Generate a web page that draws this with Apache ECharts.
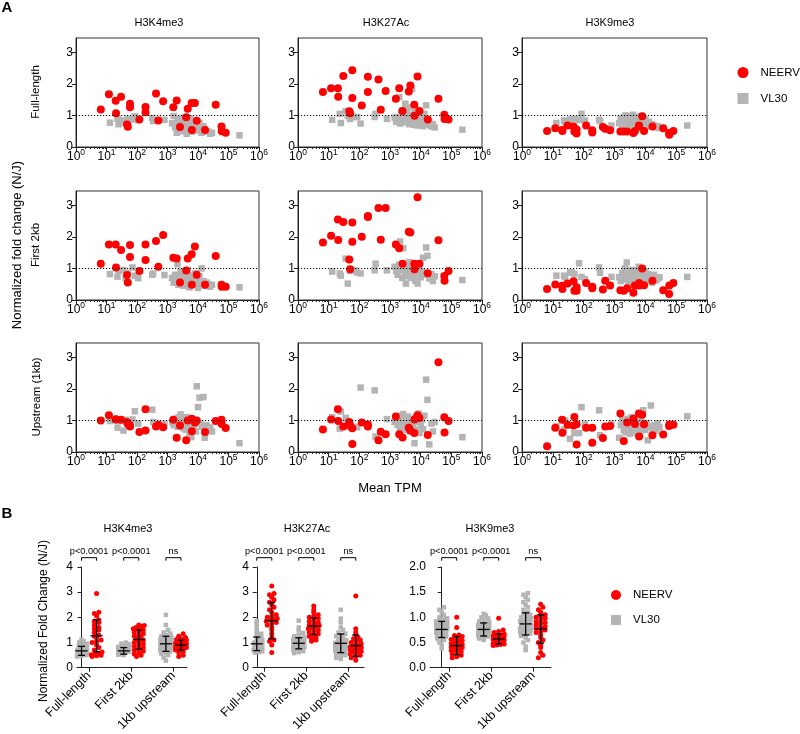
<!DOCTYPE html>
<html><head><meta charset="utf-8">
<script src="https://cdn.jsdelivr.net/npm/echarts@6.0.0/dist/echarts.min.js"></script>
<style>html,body{margin:0;padding:0;background:#fff}#c{width:800px;height:734px}</style>
</head><body><div id="c"></div>
<script>
// ---------------- DATA ----------------
const MARKS = ['H3K4me3', 'H3K27Ac', 'H3K9me3'];
const A_REGIONS = ['Full-length', 'First 2kb', 'Upstream (1kb)'];
const B_GROUPS = ['Full-length', 'First 2kb', '1kb upstream'];
const X_TICKS = [1, 10, 100, 1000, 10000, 100000, 1000000];
const Y_TICKS_A = [0, 1, 2, 3];
const P_LABELS = ['p<0.0001', 'p<0.0001', 'ns'];

// Mean TPM of each element (shared by all panel-A plots)
const NEERV_TPM = [6.5, 12, 20, 20.5, 30, 47, 50, 59, 59, 120, 190, 190, 420, 500, 720, 1550, 2000, 2570, 4100, 4600, 6200, 7900, 6300, 9100, 17000, 38000, 59000, 60000, 81000];
const VL30_TPM = [13, 23, 25, 36, 42, 50, 71, 85, 110, 316, 339, 794,
  1410, 1590, 1780, 2000, 2140, 2290, 2510, 2690, 2880, 3160, 3310, 3550, 3800, 3980, 4270, 4570, 5010, 5250, 5620, 6030,
  6310, 6760, 7240, 7940, 8510, 9120, 10000, 11200, 12000, 13200, 15100, 16600, 19100, 22400, 25100, 28800, 229000];

// Panel A fold changes, NEERV
const NEERV_K4_FULL = [1.19,1.67,1.46,1.07,1.59,0.71,0.64,1.37,1.26,0.87,1.27,1.10,1.69,0.84,1.45,1.26,1.47,0.63,0.94,1.21,1.39,1.39,0.54,0.83,0.54,1.34,0.65,0.50,0.45];
const NEERV_K27_FULL = [1.74,1.86,1.86,1.59,2.25,1.13,1.07,2.43,1.55,1.31,2.22,1.74,2.14,1.18,1.77,1.53,1.86,1.14,1.76,1.95,1.34,2.23,0.99,1.14,0.87,1.53,1.02,0.89,0.87];
const NEERV_K9_FULL = [0.51,0.59,0.54,0.51,0.68,0.65,0.49,0.43,0.55,0.68,0.53,0.46,0.63,0.58,0.53,0.49,0.49,0.49,0.44,0.51,0.68,0.97,0.65,0.51,0.65,0.59,0.44,0.39,0.51];
const NEERV_K4_2KB = [1.15,1.76,1.76,1.03,1.58,0.79,0.55,1.74,1.36,0.92,1.76,1.27,1.87,1.05,2.06,1.34,1.31,0.55,0.93,1.31,1.45,1.69,0.48,0.80,0.48,1.39,0.48,0.42,0.42];
const NEERV_K27_2KB = [1.82,2.03,2.55,1.90,2.47,1.28,0.97,2.45,1.84,2.00,2.66,2.63,2.91,1.91,2.91,1.76,1.64,1.15,2.16,2.14,1.15,3.25,0.97,1.15,0.85,1.89,0.76,0.61,0.92];
const NEERV_K9_2KB = [0.35,0.49,0.45,0.35,0.52,0.59,0.29,0.29,0.40,0.54,0.42,0.37,0.33,0.61,0.46,0.31,0.29,0.37,0.23,0.46,0.46,1.00,0.54,0.47,0.61,0.31,0.19,0.46,0.54];
const NEERV_K4_UP = [1.00,1.16,1.03,1.04,1.02,0.95,0.89,0.81,0.85,0.63,1.35,0.68,0.81,0.86,0.78,1.02,0.45,0.84,0.37,1.00,1.05,0.93,0.66,1.00,0.63,0.98,1.02,0.89,0.76];
const NEERV_K27_UP = [0.71,1.03,1.35,0.98,0.81,0.95,0.84,0.25,0.75,0.93,0.87,0.81,0.37,0.64,0.56,1.12,0.56,0.46,0.77,0.68,0.60,1.16,1.03,1.08,0.54,2.84,1.10,0.62,0.98];
const NEERV_K9_UP = [0.18,0.77,1.02,0.61,0.86,0.84,1.11,0.88,0.24,0.77,0.77,0.29,0.44,0.81,0.82,1.22,0.35,0.93,1.05,0.89,1.22,1.18,0.49,0.88,0.53,0.55,0.82,0.87,0.86];

// Panel A fold changes, VL30
const VL30_K4_FULL = [0.77,0.89,0.72,0.84,0.76,0.89,0.87,0.97,0.85,0.92,0.82,0.86,
  0.75,0.98,0.62,0.45,0.88,0.70,0.55,0.80,0.66,0.92,0.50,0.72,0.60,0.85,0.42,0.68,0.78,0.58,0.90,0.64,
  0.48,0.74,0.82,0.56,0.70,0.62,0.52,0.76,0.60,0.45,0.66,0.55,0.50,0.48,0.42,0.45,0.37];
const VL30_K27_FULL = [0.86,1.05,0.76,1.13,0.98,0.89,0.95,0.95,0.74,0.95,1.05,0.89,
  0.93,0.80,0.95,1.58,0.74,1.10,1.16,0.85,1.00,1.37,0.78,1.05,0.90,1.25,0.72,1.00,0.88,1.84,0.95,0.70,
  1.10,0.82,0.96,0.68,1.02,0.85,0.75,0.92,0.66,1.05,1.32,0.70,0.80,0.65,0.72,0.62,0.55];
const VL30_K9_FULL = [0.76,0.84,0.80,0.86,0.88,0.89,0.86,1.05,0.84,0.86,0.82,0.68,
  0.75,0.90,0.68,0.95,0.82,1.00,0.72,0.88,0.97,0.65,0.85,0.92,0.78,1.02,0.70,0.88,0.95,0.80,0.62,0.90,
  0.85,0.72,0.98,0.68,0.82,0.58,0.88,0.75,0.70,0.80,0.65,0.72,0.68,0.62,0.66,0.60,0.68];
const VL30_K4_2KB = [0.82,0.74,0.92,0.95,0.70,0.85,1.03,0.77,0.69,0.80,0.84,0.79,
  0.70,0.55,0.80,0.62,1.13,0.48,0.75,0.90,0.58,0.68,0.45,0.85,0.60,0.72,0.52,0.95,0.65,0.40,0.78,0.55,
  0.62,0.70,0.48,0.85,0.58,0.66,0.38,0.75,0.52,1.00,0.60,0.45,0.55,0.50,0.42,0.48,0.40];
const VL30_K27_2KB = [0.90,0.84,0.77,1.31,0.52,0.92,0.94,0.87,0.84,0.94,1.15,0.94,
  1.05,0.92,0.80,1.12,1.85,0.95,0.70,1.64,1.00,0.85,0.52,1.10,0.75,0.95,1.20,0.82,0.70,1.05,0.90,0.78,
  1.15,0.60,0.95,0.52,0.85,1.00,0.72,0.90,1.34,0.80,1.66,1.40,0.68,0.82,0.60,0.75,0.63];
const VL30_K9_2KB = [0.77,0.77,0.72,0.87,0.87,0.82,1.16,0.73,0.66,1.03,0.86,0.73,
  0.72,0.60,0.85,0.65,1.00,0.78,1.19,0.90,0.55,0.70,0.82,0.95,0.62,0.75,0.88,0.50,0.80,0.92,0.68,1.05,
  0.58,0.85,0.72,0.45,0.78,0.65,0.90,0.60,0.82,0.70,0.75,0.55,0.80,0.62,0.68,0.72,0.73];
const VL30_K4_UP = [0.98,0.77,0.98,0.68,1.02,0.95,1.03,1.29,0.90,1.34,0.95,0.89,
  0.95,0.85,1.05,0.90,0.80,1.10,0.95,1.19,0.85,1.00,0.75,1.05,0.90,0.70,1.10,0.85,0.95,0.60,1.00,0.47,
  0.88,1.05,0.75,0.95,0.65,2.08,1.42,1.72,0.90,0.80,1.74,0.45,0.85,0.70,0.78,0.65,0.28];
const VL30_K27_UP = [1.10,0.74,1.28,1.08,0.95,0.79,0.80,0.78,2.04,1.95,0.49,1.04,
  0.95,1.10,0.85,1.00,0.75,1.15,0.90,1.20,0.80,1.05,0.70,0.95,1.12,0.85,1.00,0.65,0.92,1.05,0.78,0.95,
  0.28,1.10,0.70,0.98,1.22,0.60,0.88,1.02,0.72,1.15,2.29,1.65,0.24,0.90,0.65,0.95,0.47];
const VL30_K9_UP = [0.81,0.71,1.00,0.42,0.84,0.60,0.60,1.42,0.88,1.32,0.53,0.89,
  0.45,0.85,1.00,0.70,0.92,0.62,1.05,0.80,0.95,0.58,0.88,1.10,0.75,0.68,0.98,0.82,0.90,0.60,1.02,0.72,
  0.85,0.65,0.95,0.78,1.32,0.88,0.70,0.92,0.37,0.80,1.47,0.75,0.85,0.68,0.90,0.78,1.13];

// Panel B values (per mark: Full-length, First 2kb, 1kb upstream)
const B_K4_VL30 = [
  [0.45,0.48,0.5,0.52,0.53,0.55,0.56,0.58,0.58,0.6,0.6,0.62,0.62,0.63,0.64,0.65,0.66,0.66,0.68,0.68,0.7,0.7,0.72,0.73,0.75,0.76,0.78,0.8,0.82,0.85,0.88,0.92,0.95,1.0,1.05,1.12],
  [0.5,0.52,0.54,0.55,0.56,0.58,0.58,0.6,0.6,0.61,0.62,0.63,0.64,0.65,0.65,0.66,0.67,0.68,0.68,0.7,0.7,0.71,0.72,0.73,0.74,0.75,0.76,0.78,0.8,0.82,0.84,0.86,0.9,0.93,0.96,1.0],
  [0.28,0.4,0.5,0.55,0.6,0.65,0.68,0.7,0.72,0.75,0.78,0.8,0.82,0.85,0.88,0.9,0.92,0.95,0.97,1.0,1.0,1.02,1.05,1.08,1.1,1.12,1.15,1.18,1.2,1.25,1.3,1.35,1.4,1.5,1.7,2.1]];
const B_K4_NEERV = [
  [0.45,0.48,0.5,0.52,0.55,0.58,0.62,0.7,0.8,0.9,1.0,1.05,1.1,1.2,1.25,1.3,1.4,1.5,1.55,1.6,1.7,1.8,1.85,1.9,2.05,2.15,2.2,2.95],
  [0.45,0.5,0.55,0.6,0.65,0.7,0.75,0.8,0.85,0.9,0.95,1.0,1.05,1.1,1.15,1.2,1.25,1.3,1.35,1.4,1.45,1.5,1.55,1.6,1.62,1.65,1.68,1.7],
  [0.45,0.5,0.6,0.65,0.7,0.72,0.75,0.78,0.8,0.82,0.85,0.87,0.88,0.9,0.9,0.92,0.95,0.97,1.0,1.02,1.05,1.08,1.1,1.12,1.15,1.2,1.25,1.35]];
const B_K27_VL30 = [
  [0.55,0.6,0.62,0.65,0.68,0.7,0.72,0.75,0.78,0.8,0.82,0.84,0.86,0.88,0.9,0.92,0.94,0.95,0.96,0.98,1.0,1.02,1.04,1.06,1.08,1.1,1.12,1.15,1.2,1.25,1.3,1.35,1.45,1.6,1.75,1.85],
  [0.58,0.62,0.66,0.7,0.72,0.75,0.78,0.8,0.82,0.84,0.86,0.88,0.9,0.92,0.93,0.95,0.96,0.97,0.98,1.0,1.0,1.02,1.04,1.05,1.07,1.1,1.12,1.15,1.18,1.2,1.25,1.3,1.38,1.48,1.6,1.87],
  [0.35,0.4,0.45,0.5,0.55,0.6,0.65,0.68,0.7,0.72,0.75,0.78,0.8,0.82,0.85,0.88,0.9,0.92,0.95,0.98,1.0,1.02,1.05,1.08,1.1,1.15,1.2,1.25,1.3,1.35,1.4,1.5,1.6,1.8,1.95,2.3]];
const B_K27_NEERV = [
  [0.6,0.9,1.05,1.1,1.2,1.35,1.5,1.6,1.7,1.75,1.8,1.85,1.9,1.92,1.95,2.0,2.05,2.1,2.2,2.3,2.4,2.5,2.6,2.7,2.8,2.9,2.95,3.25],
  [1.05,1.1,1.15,1.2,1.25,1.3,1.35,1.4,1.45,1.5,1.55,1.58,1.6,1.62,1.65,1.68,1.7,1.75,1.8,1.85,1.9,1.95,2.0,2.05,2.1,2.2,2.3,2.45],
  [0.3,0.4,0.45,0.5,0.55,0.6,0.62,0.65,0.7,0.72,0.75,0.78,0.8,0.82,0.85,0.88,0.9,0.92,0.95,1.0,1.05,1.1,1.15,1.2,1.3,1.4,1.55,2.85]];
const B_K9_VL30 = [
  [0.38,0.45,0.5,0.55,0.58,0.6,0.62,0.64,0.66,0.68,0.7,0.71,0.72,0.73,0.74,0.75,0.76,0.77,0.78,0.79,0.8,0.82,0.83,0.85,0.86,0.88,0.9,0.92,0.94,0.96,0.98,1.0,1.05,1.1,1.15,1.2],
  [0.55,0.58,0.6,0.62,0.64,0.65,0.66,0.68,0.69,0.7,0.71,0.72,0.73,0.74,0.75,0.75,0.76,0.77,0.78,0.79,0.8,0.8,0.81,0.82,0.83,0.84,0.85,0.86,0.88,0.9,0.92,0.95,0.98,1.0,1.04,1.07],
  [0.35,0.42,0.5,0.55,0.6,0.63,0.66,0.68,0.7,0.72,0.74,0.76,0.78,0.8,0.82,0.84,0.86,0.88,0.9,0.92,0.94,0.96,0.98,1.0,1.02,1.05,1.08,1.1,1.15,1.2,1.25,1.3,1.35,1.4,1.45,1.48]];
const B_K9_NEERV = [
  [0.2,0.22,0.25,0.27,0.3,0.32,0.34,0.35,0.37,0.38,0.4,0.41,0.42,0.43,0.45,0.46,0.48,0.5,0.52,0.54,0.56,0.58,0.6,0.62,0.64,0.65,0.8,1.0],
  [0.44,0.45,0.46,0.47,0.48,0.49,0.5,0.51,0.52,0.53,0.54,0.55,0.55,0.56,0.57,0.58,0.59,0.6,0.61,0.62,0.63,0.64,0.65,0.67,0.7,0.72,0.75,0.98],
  [0.2,0.25,0.3,0.4,0.45,0.5,0.55,0.6,0.65,0.7,0.72,0.75,0.78,0.8,0.82,0.85,0.88,0.9,0.92,0.95,0.98,1.0,1.02,1.05,1.1,1.15,1.2,1.26]];
// mean and SD
const B_VL30_MEAN = [[0.67,0.67,0.95],[0.95,0.97,0.97],[0.76,0.76,0.87]];
const B_VL30_SD = [[0.18,0.13,0.30],[0.27,0.22,0.37],[0.16,0.13,0.22]];
const B_NEERV_MEAN = [[1.27,1.12,0.90],[1.87,1.65,0.88],[0.44,0.57,0.77]];
const B_NEERV_SD = [[0.64,0.38,0.20],[0.72,0.33,0.42],[0.18,0.10,0.28]];

// ---------------- LAYOUT / STYLE ----------------
const FONT = '"Liberation Sans", Arial, Helvetica, sans-serif';
const RED = '#ff0000', GRAY = '#b4b4b4', INK = '#222';
const A_LEFT = [76, 298, 522], A_WIDTH = [183, 184, 185], A_TOP = [38, 191, 343], A_H = 109;
const B_LEFT = [77, 253, 430], B_WIDTH = [110, 111, 121], B_TOP = 567, B_H = 109;
const B_XMIN = [-0.3, -0.25, -0.78], B_XMAX = [7.0, 7.15, 7.29];
const B_YMAX = [4, 4, 2], B_YINT = [1, 1, 0.5];
const B_POS_VL30 = [0, 2.8, 5.6], B_POS_NEERV = [1, 3.8, 6.6], B_TICKS = [0.5, 3.3, 6.1];
const B_BRACKET_Y = [4.37, 4.37, 2.185];

const A_NEERV = [[NEERV_K4_FULL, NEERV_K27_FULL, NEERV_K9_FULL], [NEERV_K4_2KB, NEERV_K27_2KB, NEERV_K9_2KB], [NEERV_K4_UP, NEERV_K27_UP, NEERV_K9_UP]];
const A_VL30 = [[VL30_K4_FULL, VL30_K27_FULL, VL30_K9_FULL], [VL30_K4_2KB, VL30_K27_2KB, VL30_K9_2KB], [VL30_K4_UP, VL30_K27_UP, VL30_K9_UP]];
const B_VL30 = [B_K4_VL30, B_K27_VL30, B_K9_VL30];
const B_NEERV = [B_K4_NEERV, B_K27_NEERV, B_K9_NEERV];

const MINOR_TICKS = [];
for (let k = 0; k < 6; k++) for (let m = 2; m <= 9; m++) MINOR_TICKS.push(m * Math.pow(10, k));

const grid = [], xAxis = [], yAxis = [], series = [];
const axisLineStyle = { color: INK, width: 1 };

for (let r = 0; r < 3; r++) {
  for (let c = 0; c < 3; c++) {
    const i = r * 3 + c;
    grid.push({ left: A_LEFT[c], top: A_TOP[r], width: A_WIDTH[c], height: A_H, show: true, borderColor: '#333', borderWidth: 1 });
    xAxis.push({
      gridIndex: i, type: 'log', logBase: 10, min: 1, max: 1e6, position: 'bottom',
      axisLine: { onZero: false, lineStyle: axisLineStyle },
      axisTick: { customValues: X_TICKS, length: 4, lineStyle: axisLineStyle },
      axisLabel: {
        customValues: X_TICKS, margin: 1, color: '#000', fontFamily: FONT, fontSize: 12, lineHeight: 18,
        formatter: v => '10{s|' + Math.round(Math.log10(v)) + '}',
        rich: { s: { fontSize: 8.5, fontFamily: FONT, color: '#000', lineHeight: 9, verticalAlign: 'top' } }
      },
      splitLine: { show: false }
    });
    xAxis.push({
      gridIndex: i, type: 'log', logBase: 10, min: 1, max: 1e6, position: 'bottom',
      axisLine: { show: false }, axisLabel: { show: false }, splitLine: { show: false },
      axisTick: { customValues: MINOR_TICKS, length: 2, lineStyle: axisLineStyle }
    });
    yAxis.push({
      gridIndex: i, type: 'value', min: 0, max: 3.45,
      axisLine: { show: true, lineStyle: axisLineStyle },
      axisTick: { show: true, customValues: Y_TICKS_A, length: 4, lineStyle: axisLineStyle },
      axisLabel: { customValues: Y_TICKS_A, color: '#000', fontFamily: FONT, fontSize: 12, margin: 3 },
      splitLine: { show: false }
    });
    series.push({
      type: 'scatter', name: 'VL30', xAxisIndex: 2 * i, yAxisIndex: i, z: 2,
      symbol: 'rect', symbolSize: 6.5, itemStyle: { color: GRAY, opacity: 1 },
      data: VL30_TPM.map((t, k) => [t, A_VL30[r][c][k]]),
      markLine: { silent: true, symbol: ['none', 'none'], label: { show: false }, animation: false,
        lineStyle: { color: '#000', type: [1.2, 1.8], width: 1 }, emphasis: { disabled: true }, data: [{ yAxis: 1 }] }
    });
    series.push({
      type: 'scatter', name: 'NEERV', xAxisIndex: 2 * i, yAxisIndex: i, z: 3,
      symbol: 'circle', symbolSize: 8, itemStyle: { color: RED, opacity: 1 },
      data: NEERV_TPM.map((t, k) => [t, A_NEERV[r][c][k]])
    });
  }
}

// beeswarm layout of a column (positions only)
function swarm(vals, center, p) {
  const pxX = B_WIDTH[p] / (B_XMAX[p] - B_XMIN[p]);
  const pxY = B_H / B_YMAX[p];
  const bins = new Map();
  vals.forEach((v, k) => { const b = Math.round(v * pxY / 4); if (!bins.has(b)) bins.set(b, []); bins.get(b).push(k); });
  const out = new Array(vals.length);
  bins.forEach(idx => {
    const n = idx.length; const step = n > 1 ? Math.min(4.5, 11 / (n - 1)) : 0;
    idx.forEach((k, j) => { out[k] = [center + (j - (n - 1) / 2) * step / pxX, vals[k]]; });
  });
  return out;
}

function renderErr(params, api) {
  const x = api.value(0), m = api.value(1), s = api.value(2);
  const c = api.coord([x, m]), t = api.coord([x, m + s]), b = api.coord([x, m - s]);
  const st = { stroke: '#000', lineWidth: 1.3 };
  return { type: 'group', children: [
    { type: 'line', shape: { x1: c[0], y1: t[1], x2: c[0], y2: b[1] }, style: st },
    { type: 'line', shape: { x1: c[0] - 3.5, y1: t[1], x2: c[0] + 3.5, y2: t[1] }, style: st },
    { type: 'line', shape: { x1: c[0] - 3.5, y1: b[1], x2: c[0] + 3.5, y2: b[1] }, style: st },
    { type: 'line', shape: { x1: c[0] - 6, y1: c[1], x2: c[0] + 6, y2: c[1] }, style: st }
  ] };
}
function renderBracket(params, api) {
  const a = api.coord([api.value(0), api.value(2)]), b = api.coord([api.value(1), api.value(2)]);
  return { type: 'group', children: [
    { type: 'polyline', shape: { points: [[a[0], a[1] + 3], [a[0], a[1]], [b[0], b[1]], [b[0], b[1] + 3]] }, style: { stroke: '#000', fill: null, lineWidth: 1 } },
    { type: 'text', x: (a[0] + b[0]) / 2, y: a[1] - 1.5, style: { text: P_LABELS[params.dataIndex], fill: '#000', font: '9.2px ' + FONT, align: 'center', verticalAlign: 'bottom', textAlign: 'center', textVerticalAlign: 'bottom' } }
  ] };
}

for (let p = 0; p < 3; p++) {
  const gi = 9 + p, xi = 18 + p;
  grid.push({ left: B_LEFT[p], top: B_TOP, width: B_WIDTH[p], height: B_H, show: false });
  xAxis.push({
    gridIndex: gi, type: 'value', min: B_XMIN[p], max: B_XMAX[p],
    axisLine: { onZero: false, lineStyle: axisLineStyle },
    axisTick: { customValues: B_TICKS, length: 4, lineStyle: axisLineStyle },
    axisLabel: { customValues: B_TICKS, rotate: 45, margin: 6, color: '#000', fontFamily: FONT, fontSize: 12.5,
      formatter: v => B_GROUPS[B_TICKS.findIndex(t => Math.abs(t - v) < 1e-6)] },
    splitLine: { show: false }
  });
  yAxis.push({
    gridIndex: gi, type: 'value', min: 0, max: B_YMAX[p], interval: B_YINT[p],
    axisLine: { show: true, lineStyle: axisLineStyle },
    axisTick: { show: true, length: 4, lineStyle: axisLineStyle },
    axisLabel: { color: '#000', fontFamily: FONT, fontSize: 12, margin: 4, formatter: p === 2 ? (v => v.toFixed(1)) : (v => String(v)) },
    splitLine: { show: false }
  });
  let gray = [], red = [];
  for (let g = 0; g < 3; g++) {
    gray = gray.concat(swarm(B_VL30[p][g], B_POS_VL30[g], p));
    red = red.concat(swarm(B_NEERV[p][g], B_POS_NEERV[g], p));
  }
  series.push({ type: 'scatter', name: 'VL30', xAxisIndex: xi, yAxisIndex: gi, z: 2, symbol: 'rect', symbolSize: 4.5, itemStyle: { color: GRAY, opacity: 1 }, data: gray });
  series.push({ type: 'scatter', name: 'NEERV', xAxisIndex: xi, yAxisIndex: gi, z: 3, symbol: 'circle', symbolSize: 5, itemStyle: { color: RED, opacity: 1 }, data: red });
  const errData = [];
  for (let g = 0; g < 3; g++) {
    errData.push([B_POS_VL30[g], B_VL30_MEAN[p][g], B_VL30_SD[p][g]]);
    errData.push([B_POS_NEERV[g], B_NEERV_MEAN[p][g], B_NEERV_SD[p][g]]);
  }
  series.push({ type: 'custom', xAxisIndex: xi, yAxisIndex: gi, z: 5, silent: true, renderItem: renderErr, data: errData, encode: { x: 0, y: 1 } });
  series.push({ type: 'custom', xAxisIndex: xi, yAxisIndex: gi, z: 5, silent: true, clip: false, renderItem: renderBracket,
    data: B_POS_VL30.map((g, k) => [g, B_POS_NEERV[k], B_BRACKET_Y[p]]), encode: { x: 0, y: 2 } });
}

function txt(x, y, text, size, opts) {
  return Object.assign({ type: 'text', x: x, y: y, silent: true,
    style: { text: text, fill: '#000', font: (opts && opts.bold ? 'bold ' : '') + size + 'px ' + FONT,
      align: 'center', verticalAlign: 'middle', textAlign: 'center', textVerticalAlign: 'middle' } },
    opts && opts.rot ? { rotation: Math.PI / 2 } : {});
}
const graphic = [
  txt(7, 8, 'A', 15, { bold: true }),
  txt(7, 514, 'B', 15, { bold: true }),
  txt(159, 23, MARKS[0], 11), txt(386, 23, MARKS[1], 11), txt(610, 23, MARKS[2], 11),
  txt(17, 245, 'Normalized fold change (N/J)', 13, { rot: true }),
  txt(36, 92, A_REGIONS[0], 11.5, { rot: true }),
  txt(36, 245, A_REGIONS[1], 11.5, { rot: true }),
  txt(37, 397, A_REGIONS[2], 11.5, { rot: true }),
  txt(390, 488, 'Mean TPM', 13),
  txt(128, 529, MARKS[0], 11), txt(307, 529, MARKS[1], 11), txt(490, 529, MARKS[2], 11),
  txt(44, 621, 'Normalized Fold Change (N/J)', 12, { rot: true })
];

const legendData = [{ name: 'NEERV', icon: 'circle' }, { name: 'VL30', icon: 'rect' }];
const chart = echarts.init(document.getElementById('c'), null, { renderer: 'canvas' });
chart.setOption({
  animation: false,
  backgroundColor: '#fff',
  textStyle: { fontFamily: FONT },
  grid, xAxis, yAxis, series, graphic,
  legend: [
    { orient: 'vertical', left: 737.5, top: 66.5, padding: 0, itemWidth: 11, itemHeight: 11, itemGap: 14, selectedMode: false, data: legendData,
      textStyle: { fontSize: 11.5, fontFamily: FONT, color: '#000', lineHeight: 11, padding: [0, 0, 0, 7] } },
    { orient: 'vertical', left: 611, top: 589, padding: 0, itemWidth: 10, itemHeight: 10, itemGap: 13, selectedMode: false, data: legendData,
      textStyle: { fontSize: 11.5, fontFamily: FONT, color: '#000', lineHeight: 10, padding: [0, 0, 0, 7] } }
  ]
});
</script></body></html>
